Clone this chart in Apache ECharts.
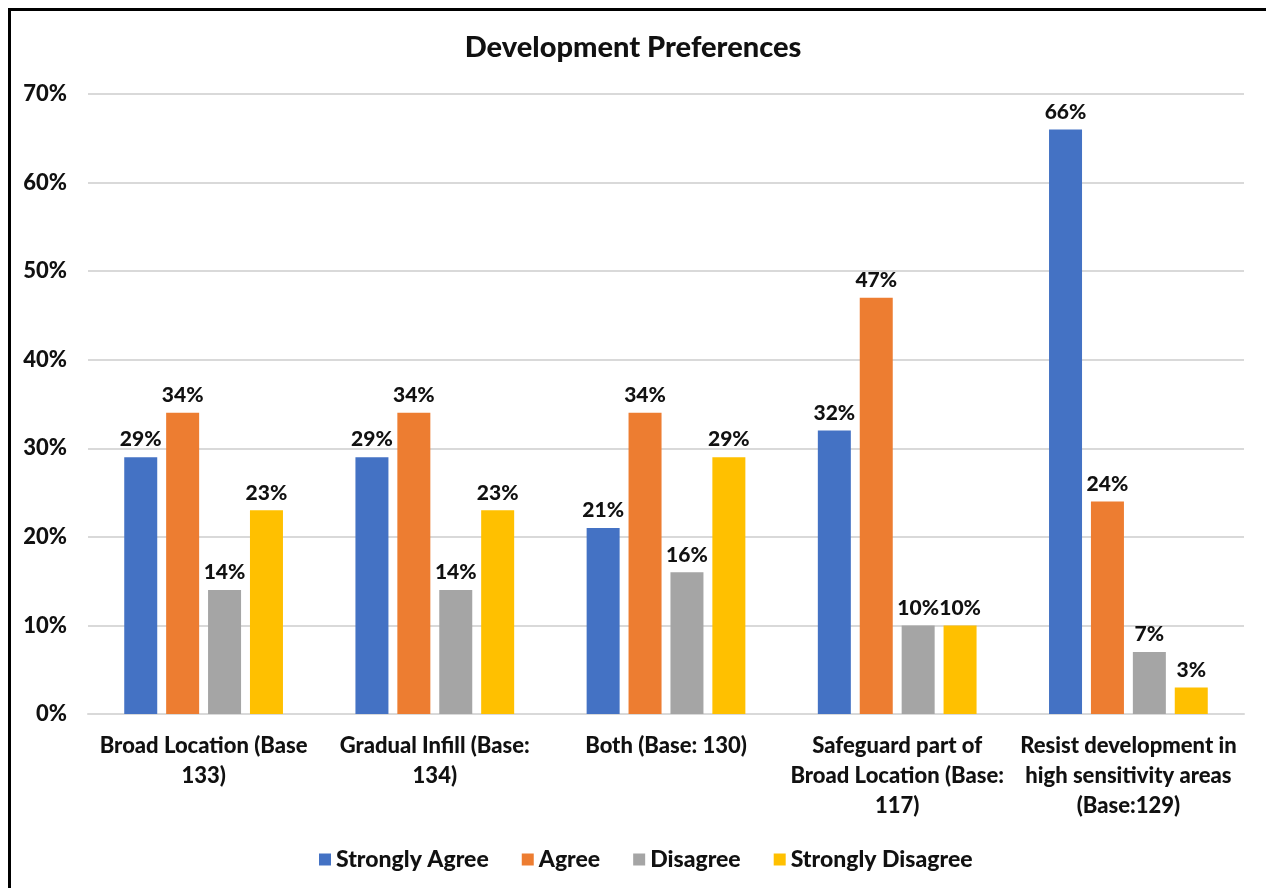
<!DOCTYPE html>
<html>
<head>
<meta charset="utf-8">
<script src="https://cdn.jsdelivr.net/npm/echarts@6/dist/echarts.min.js"></script>
<style>
  html, body { margin: 0; padding: 0; background: #fff; }
  #chart { width: 1266px; height: 888px; }
</style>
</head>
<body>
<div id="chart"></div>
<script>
// Survey response shares (%) per development option
const categories = [
  'Broad Location (Base\n133)',
  'Gradual Infill (Base:\n134)',
  'Both (Base: 130)',
  'Safeguard part of\nBroad Location (Base:\n117)',
  'Resist development in\nhigh sensitivity areas\n(Base:129)'
];
const seriesNames = ['Strongly Agree', 'Agree', 'Disagree', 'Strongly Disagree'];
const stronglyAgree = [29, 29, 21, 32, 66];
const agree = [34, 34, 34, 47, 24];
const disagree = [14, 14, 16, 10, 7];
const stronglyDisagree = [23, 23, 29, 10, 3];
const colors = ['#4472C4', '#ED7D31', '#A5A5A5', '#FFC000'];

const FONT = 'Lato, "Open Sans", sans-serif';
const TEXT = '#111';
const WEIGHT = 900;

const chart = echarts.init(document.getElementById('chart'), null, { renderer: 'canvas' });

const values = [stronglyAgree, agree, disagree, stronglyDisagree];

chart.setOption({
  backgroundColor: '#fff',
  animation: false,
  color: colors,
  title: {
    text: 'Development Preferences',
    left: 'center',
    top: 28,
    textStyle: { fontFamily: FONT, fontWeight: WEIGHT, fontSize: 29, color: TEXT }
  },
  legend: {
    top: 843,
    left: 314,
    itemWidth: 12,
    itemHeight: 12,
    itemGap: 33,
    icon: 'rect',
    textStyle: { fontFamily: FONT, fontWeight: WEIGHT, fontSize: 23, color: TEXT },
    data: seriesNames
  },
  grid: { left: 88, right: 22, top: 94, bottom: 174, containLabel: false },
  xAxis: {
    type: 'category',
    data: categories,
    axisTick: { show: false },
    axisLine: { lineStyle: { color: '#d9d9d9', width: 2 } },
    axisLabel: {
      interval: 0,
      margin: 17,
      lineHeight: 30,
      fontFamily: FONT, fontWeight: WEIGHT, fontSize: 22, color: TEXT
    }
  },
  yAxis: {
    type: 'value',
    min: 0,
    max: 70,
    interval: 10,
    axisLine: { show: false },
    axisTick: { show: false },
    splitLine: { lineStyle: { color: '#d9d9d9', width: 2 } },
    axisLabel: {
      formatter: '{value}%',
      margin: 21,
      fontFamily: FONT, fontWeight: WEIGHT, fontSize: 22, color: TEXT
    }
  },
  series: seriesNames.map((name, i) => ({
    name: name,
    type: 'bar',
    data: values[i],
    barWidth: 33,
    barGap: '27%',
    label: {
      show: true,
      position: 'top',
      distance: 7,
      formatter: '{c}%',
      fontFamily: FONT, fontWeight: WEIGHT, fontSize: 21, color: TEXT
    }
  })),
  graphic: [{
    type: 'rect',
    shape: { x: 9.5, y: 9.5, width: 1300, height: 900 },
    style: { fill: null, stroke: '#000', lineWidth: 3 },
    silent: true
  }]
});
</script>
</body>
</html>
